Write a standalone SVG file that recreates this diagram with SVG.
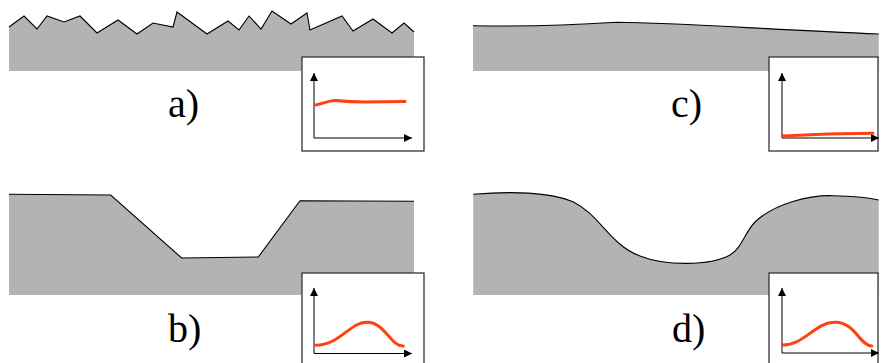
<svg xmlns="http://www.w3.org/2000/svg" width="882" height="363" viewBox="0 0 882 363">
<defs>
<marker id="ah" viewBox="0 0 10 10" refX="10" refY="5" markerWidth="9" markerHeight="8" markerUnits="userSpaceOnUse" orient="auto">
<path d="M0,0 L10,5 L0,10 z" fill="#000"/>
</marker>
</defs>
<style>
.ground{fill:#b3b3b3;stroke:none}
.edge{fill:none;stroke:#000;stroke-width:1.1;stroke-linejoin:miter}
.box{fill:#fff;stroke:#333;stroke-width:1.3}
.axis{fill:none;stroke:#000;stroke-width:1;marker-end:url(#ah)}
.curve{fill:none;stroke:#ff4010;stroke-width:3;stroke-linecap:round}
.lbl{font-family:'Liberation Serif','DejaVu Serif',serif;font-size:40px;fill:#000}
</style>
<g id="panel-a">
<path class="ground" d="M9,27 L24,16 L37,29 L47,16 L64,22 L80,16 L97,33 L118,20 L137,34 L153,23 L173,27 L177,12 L207,34 L228,21 L239,30 L249,16 L261,29 L272,11 L291,24 L307,13 L310,30 L342,16 L353,31 L373,19 L392,33 L404,23 L414,32 L414,71 L9,71 z"/>
<polyline class="edge" points="9,27 24,16 37,29 47,16 64,22 80,16 97,33 118,20 137,34 153,23 173,27 177,12 207,34 228,21 239,30 249,16 261,29 272,11 291,24 307,13 310,30 342,16 353,31 373,19 392,33 404,23 414,32"/>
<rect class="box" x="302" y="57" width="122" height="94"/>
<line class="axis" x1="314" y1="138" x2="314" y2="73"/>
<line class="axis" x1="314" y1="138" x2="412" y2="138"/>
<path class="curve" d="M315.7,105 C 322,104 330,100 336,100.5 C 345,101.5 350,102 365,102 L 405,101.5"/>
<text class="lbl" x="168" y="117">a)</text>
</g>
<g id="panel-c">
<path class="ground" d="M473,25.7 C 540,27 590,24 616.7,22.3 C 680,23 760,29 878.7,34 L878.7,71 L473,71 z"/>
<path class="edge" d="M473,25.7 C 540,27 590,24 616.7,22.3 C 680,23 760,29 878.7,34"/>
<rect class="box" x="769" y="57" width="109" height="94"/>
<line class="axis" x1="782" y1="138" x2="782" y2="73"/>
<line class="axis" x1="782" y1="138" x2="879" y2="138"/>
<path class="curve" d="M782.7,136 C 810,134.5 840,133.5 873,133.3"/>
<text class="lbl" x="671" y="117">c)</text>
</g>
<g id="panel-b">
<path class="ground" d="M9,194.3 L110.7,195 L181.7,258 L258.3,257 L300,200.7 L414,201.3 L414,295 L9,295 z"/>
<polyline class="edge" points="9,194.3 110.7,195 181.7,258 258.3,257 300,200.7 414,201.3"/>
<rect class="box" x="302" y="273" width="122" height="94"/>
<line class="axis" x1="314" y1="353.5" x2="314" y2="288"/>
<line class="axis" x1="314" y1="353.5" x2="412" y2="353.5"/>
<path class="curve" d="M315.7,345.3 C 340,345 350,322 366.7,322.3 C 385,322 390,346 403.3,346"/>
<text class="lbl" x="168" y="342">b)</text>
</g>
<g id="panel-d">
<path class="ground" d="M473.3,194.3 C 510,191 550,192 573,201.7 C 600,215 610,245 640,256 C 665,266 710,266 730,255 C 742,248 745,232 755,222 C 775,203 810,195 833,195.7 C 855,196 870,198 878.7,200 L878.7,295 L473.3,295 z"/>
<path class="edge" d="M473.3,194.3 C 510,191 550,192 573,201.7 C 600,215 610,245 640,256 C 665,266 710,266 730,255 C 742,248 745,232 755,222 C 775,203 810,195 833,195.7 C 855,196 870,198 878.7,200"/>
<rect class="box" x="769" y="273" width="109" height="94"/>
<line class="axis" x1="782" y1="353" x2="782" y2="288"/>
<line class="axis" x1="782" y1="353" x2="879" y2="353"/>
<path class="curve" d="M782.7,345 C 805,345 815,322 835,322.3 C 855,322 860,346 871.7,346"/>
<text class="lbl" x="672" y="342">d)</text>
</g>
</svg>
